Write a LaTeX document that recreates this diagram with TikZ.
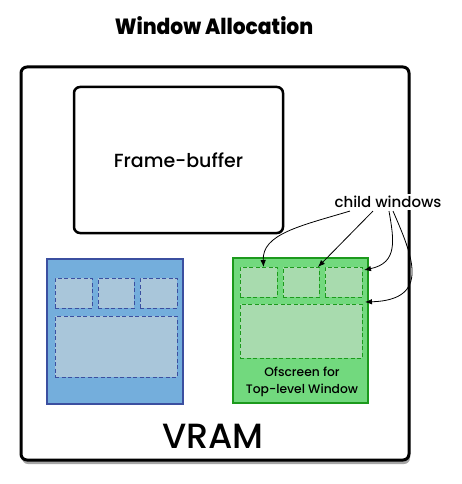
\documentclass[tikz,border=0pt]{standalone}
\usepackage{fontspec}
\setmainfont{Poppins}[UprightFont=* Medium, BoldFont=* ExtraBold]
\usetikzlibrary{arrows.meta,shadows,calc}
\definecolor{bluefill}{HTML}{74AEDC}
\definecolor{blueedge}{HTML}{3B4FA0}
\definecolor{bluein}{HTML}{A9C6DA}
\definecolor{greenfill}{HTML}{72D97E}
\definecolor{greenedge}{HTML}{1C9A1C}
\definecolor{greenin}{HTML}{A8DBAE}
\tikzset{
  box/.style={draw, inner sep=0pt, outer sep=0pt},
  blueout/.style={box, fill=bluefill, draw=blueedge, line width=2pt},
  bluechild/.style={box, fill=bluein, draw=blueedge, line width=1pt, dash pattern=on 4pt off 2.5pt},
  greenout/.style={box, fill=greenfill, draw=greenedge, line width=2pt},
  greenchild/.style={box, fill=greenin, draw=greenedge, line width=1pt, dash pattern=on 4pt off 2.5pt},
  arr/.style={-{Latex[length=7pt,width=5.5pt]}, line width=0.8pt},
}
\begin{document}
\begin{tikzpicture}[x=1pt,y=-1pt]
\useasboundingbox (0,0) rectangle (462,484);
\node[font=\bfseries\fontsize{22}{24}\selectfont, xscale=0.92] (title) at (214,26) {Window Allocation};
\node[box, line width=3pt, rounded corners=6pt, fill=white, minimum width=388pt, minimum height=393pt,
  drop shadow={shadow xshift=1pt, shadow yshift=-4pt, opacity=0.35, fill=black}] (vram) at (215,263.5) {};
\node[font=\fontsize{35}{40}\selectfont, anchor=base] (vlabel) at (213,448) {VRAM};
\node[box, line width=2.5pt, rounded corners=6pt, fill=white, minimum width=209pt, minimum height=146pt] (fb) at (178.5,160) {};
\node[font=\fontsize{19}{22}\selectfont] (fblabel) at (fb.center) {Frame-buffer};
% blue
\node[blueout, minimum width=136pt, minimum height=145pt] (blue) at (115,331.5) {};
\node[bluechild, minimum width=37pt, minimum height=30pt] (b1) at (73.5,293) {};
\node[bluechild, minimum width=36pt, minimum height=30pt] (b2) at (116,293) {};
\node[bluechild, minimum width=37pt, minimum height=30pt] (b3) at (158.5,293) {};
\node[bluechild, minimum width=122pt, minimum height=61pt] (b4) at (116,346.5) {};
% green
\node[greenout, minimum width=135pt, minimum height=145pt] (green) at (300.5,330.5) {};
\node[greenchild, minimum width=37pt, minimum height=30pt] (g1) at (258.5,282) {};
\node[greenchild, minimum width=36pt, minimum height=30pt] (g2) at (301,282) {};
\node[greenchild, minimum width=37pt, minimum height=30pt] (g3) at (343.5,282) {};
\node[greenchild, minimum width=122pt, minimum height=54pt] (g4) at (301,331) {};
\node[font=\fontsize{12.3}{17}\selectfont, align=center] (glabel) at (302,382) {Ofscreen for\\Top-level Window};
% child windows
\node[font=\fontsize{15}{18}\selectfont, fill=white, inner sep=2pt] (cw) at (388,202) {child windows};
\coordinate (s1) at ($(cw.south)+(-38,1)$);
\coordinate (s2) at ($(cw.south)+(-15,1)$);
\coordinate (s3) at ($(cw.south)+(1,1)$);
\coordinate (s4) at ($(cw.south)+(5,1)$);
\draw[arr] (s1) .. controls (300,226) and (262,234) .. ([xshift=5pt]g1.north);
\draw[arr] (s2) -- ([xshift=17pt]g2.north);
\draw[arr] (s3) .. controls (394,240) and (398,263) .. ([xshift=2pt,yshift=-3pt]g3.north east);
\draw[arr] (s4) .. controls (412,255) and (432,300) .. ([xshift=3pt,yshift=2pt]g4.north east);
\end{tikzpicture}
\end{document}
